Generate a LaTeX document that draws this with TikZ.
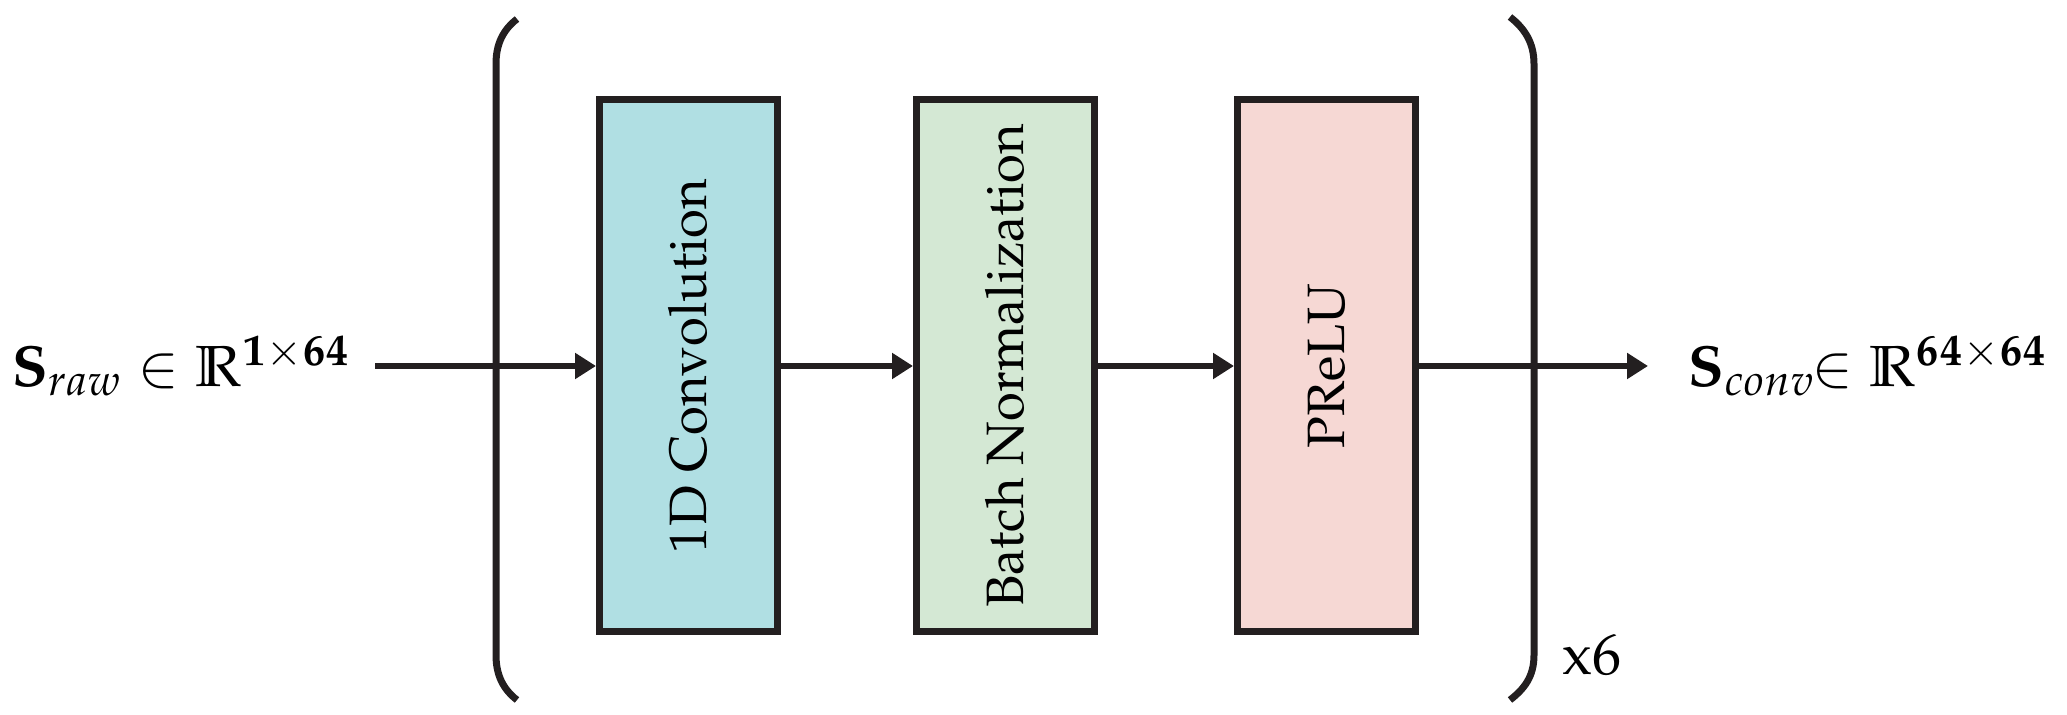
\documentclass[tikz,border=0pt]{standalone}
\usepackage[T1]{fontenc}
\usepackage{mathpazo}
\usetikzlibrary{arrows.meta}
\definecolor{edge}{HTML}{231F20}
\definecolor{cconv}{HTML}{B0DFE3}
\definecolor{cbn}{HTML}{D4E8D4}
\definecolor{cact}{HTML}{F6D8D4}
\begin{document}
\begin{tikzpicture}[x=0.5pt,y=-0.5pt,
  font=\fontsize{29}{34}\selectfont,
  stage/.style={draw=edge, line width=3.5pt, minimum width=89pt, minimum height=266pt, inner sep=0pt, text=black, font=\fontsize{26.3}{31}\selectfont},
  arr/.style={draw=edge, line width=3.4pt, -{Triangle[length=10.5pt,width=12.5pt]}},
  brace/.style={draw=edge, line width=3.5pt},
  lbl/.style={inner sep=0pt, text=black}]
\useasboundingbox (0,0) rectangle (2067,715);

\node[stage, fill=cconv] (conv) at (688.5,366) {\rotatebox{90}{1D Convolution}};
\node[stage, fill=cbn] (bn) at (1005.5,366) {\rotatebox{90}{Batch Normalization}};
\node[stage, fill=cact] (act) at (1326.5,366) {\rotatebox{90}{PReLU}};

\node[lbl, anchor=east, outer xsep=12.5pt] (inp) at (375,366)
  {$\mathbf{S}_{raw}\in\mathbb{R}^{\mathbf{1}\times\mathbf{64}}$};
\node[lbl, anchor=west, outer xsep=20pt] (out) at (1648,366)
  {$\mathbf{S}_{conv}\!\!\in\mathbb{R}^{\mathbf{64}\times\mathbf{64}}$};
\node[lbl, anchor=base west] (rep) at (1562,675) {x6};

\draw[brace] (517,19) .. controls (503,30) and (496,44) .. (496,64) -- (496,655) .. controls (496,675) and (503,689) .. (517,700);
\draw[brace] (1510,17) .. controls (1524,28) and (1534,42) .. (1534,64) -- (1534,655) .. controls (1534,677) and (1524,689) .. (1510,700);

\draw[arr] (inp.east) -- (conv.west);
\draw[arr] (conv.east) -- (bn.west);
\draw[arr] (bn.east) -- (act.west);
\draw[arr] (act.east) -- (out.west);
\end{tikzpicture}
\end{document}
